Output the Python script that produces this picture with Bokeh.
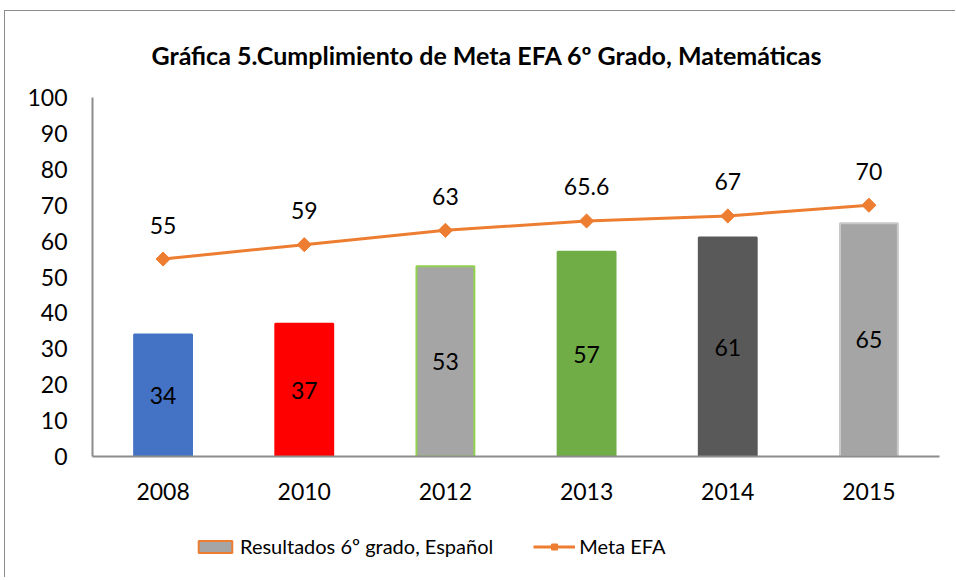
from bokeh.plotting import figure
from bokeh.layouts import column
from bokeh.models import ColumnDataSource, FactorRange, Range1d, SingleIntervalTicker, Legend, LegendItem
from bokeh.core.properties import value
from bokeh.embed import file_html
from bokeh.resources import INLINE

years = ["2008", "2010", "2012", "2013", "2014", "2015"]
resultados = [34, 37, 53, 57, 61, 65]
meta = [55, 59, 63, 65.6, 67, 70]
meta_labels = ["55", "59", "63", "65.6", "67", "70"]
bar_fill = ["#4472C4", "#FF0000", "#A5A5A5", "#70AD47", "#595959", "#A5A5A5"]
bar_line = ["#4472C4", "#FF0000", "#92D050", "#70AD47", "#595959", "#C9C9C9"]

FONT = "Lato"
NUM = "23px"
ORANGE = "#ED7D31"
bars = ColumnDataSource(dict(x=years, top=resultados, mid=[v / 2 for v in resultados],
                             lab=[str(v) for v in resultados], fill=bar_fill, line=bar_line))
line_src = ColumnDataSource(dict(x=years, y=meta, lab=meta_labels))

p = figure(x_range=FactorRange(*years, range_padding=0), y_range=Range1d(0, 100),
           width=950, height=500, output_backend="svg", toolbar_location=None,
           min_border_left=87, min_border_right=16, min_border_top=86, min_border_bottom=55)
p.outline_line_color = None
p.grid.visible = False

p.title.text = "Gráfica 5.Cumplimiento de Meta EFA 6º Grado, Matemáticas"
p.title.text_font = FONT
p.title.text_font_size = "25px"
p.title.text_font_style = "bold"
p.title.text_color = "#000000"
p.title.align = "left"
p.title.offset = 59
p.title.vertical_align = "middle"
p.title.standoff = 54

p.vbar(x="x", top="top", width=0.41, source=bars, fill_color="fill", line_color="line", line_width=2)
p.text(x="x", y="mid", text="lab", source=bars, text_font=value(FONT), text_font_size=NUM,
       text_align="center", text_baseline="middle", text_color="#000000")

p.line(x="x", y="y", source=line_src, line_color=ORANGE, line_width=3)
p.scatter(x="x", y="y", source=line_src, marker="square", angle=0.785, size=10,
          fill_color=ORANGE, line_color=ORANGE)
p.text(x="x", y="y", text="lab", source=line_src, y_offset=-34, text_font=value(FONT),
       text_font_size=NUM, text_align="center", text_baseline="middle", text_color="#000000")

for ax in (p.xaxis, p.yaxis):
    ax.axis_line_color = "#8c8c8c"
    ax.axis_line_width = 2
    ax.major_tick_line_color = None
    ax.minor_tick_line_color = None
    ax.major_label_text_font = FONT
    ax.major_label_text_font_size = NUM
    ax.major_label_text_color = "#000000"
p.yaxis.ticker = SingleIntervalTicker(interval=10)
p.yaxis.major_label_standoff = 19
p.xaxis.major_label_standoff = 20

# legend strip below the chart: same series drawn out of view, only their legend glyphs show
lf = figure(width=950, height=66, x_range=FactorRange(*years, range_padding=0),
            y_range=Range1d(100, 200),
            output_backend="svg", toolbar_location=None, min_border=0,
            x_axis_location=None, y_axis_location=None)
lf.outline_line_color = None
lf.grid.visible = False
d_bar = lf.rect(x="x", y="top", width=0.41, height=1, source=bars, fill_color="#A5A5A5",
                line_color=ORANGE, line_width=2)
d_line = lf.line(x="x", y="y", source=line_src, line_color=ORANGE, line_width=3)
d_mark = lf.scatter(x="x", y="y", source=line_src, marker="square", angle=0.785, size=10,
                    fill_color=ORANGE, line_color=ORANGE)
legend = Legend(items=[LegendItem(label="Resultados 6º grado, Español", renderers=[d_bar]),
                       LegendItem(label="Meta EFA", renderers=[d_line, d_mark])],
                orientation="horizontal", location=(102, 19), border_line_color=None,
                background_fill_alpha=0,
                label_text_font=FONT, label_text_font_size="20px", label_text_color="#000000",
                glyph_width=42, glyph_height=15, label_standoff=4, spacing=40,
                padding=0, margin=0)
lf.add_layout(legend, "center")

layout = column(p, lf, spacing=0,
                styles={"border-top": "1px solid #8c8c8c", "border-left": "1px solid #8c8c8c",
                        "margin-left": "4px", "margin-top": "10px"})

open("out.html", "w").write(file_html(layout, INLINE))
